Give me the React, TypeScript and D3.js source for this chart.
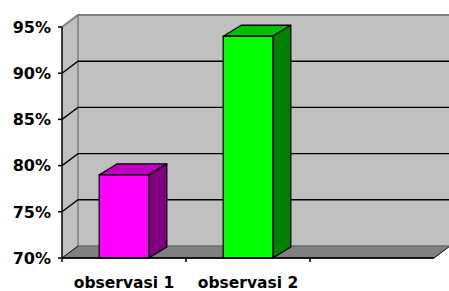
import React, { useEffect } from 'react'
import * as d3 from 'd3'

const categories = ['observasi 1', 'observasi 2']
const values = [0.79, 0.94]
const yTicks = [0.7, 0.75, 0.8, 0.85, 0.9, 0.95]
const fronts = ['#ff00ff', '#00ff00']
const tops = ['#c000c0', '#00c000']
const sides = ['#800080', '#008000']

const W = 449
const H = 291

export default function App() {
  useEffect(() => {
    document.body.style.margin = '0'
  }, [])

  // front plane
  const left = 62
  const right = 434
  const y = d3.scaleLinear().domain([0.7, 0.95]).range([258, 27])
  // empty third slot like the original
  const slots = [...categories, '']
  const x = d3.scaleBand().domain(slots).range([left, right])

  // depth of the walls and bars
  const dx = 16, dy = -12
  const bdx = 18, bdy = -11

  const y0 = y(0.7)
  const yTop = y(0.95)
  const font = 'DejaVu Sans, Verdana, sans-serif'

  const pts = (arr: number[][]) => arr.map(p => p.join(',')).join(' ')

  return (
    <svg width={W} height={H} style={{ display: 'block', background: '#fff' }}>
      {/* back wall */}
      <rect x={left + dx} y={yTop + dy} width={right - left + 10} height={y0 - yTop} fill="#c0c0c0" />
      {/* side wall */}
      <polygon points={pts([[left, yTop], [left + dx, yTop + dy], [left + dx, y0 + dy], [left, y0]])} fill="#c0c0c0" />
      {/* wall edges */}
      <polyline points={pts([[left, yTop], [left + dx, yTop + dy], [W + 5, yTop + dy]])} fill="none" stroke="#808080" strokeWidth={2} />
      <line x1={left + dx} x2={left + dx} y1={yTop + dy} y2={y0 + dy} stroke="#808080" strokeWidth={1.5} />

      {/* gridlines */}
      {yTicks.slice(1, -1).map(t => (
        <g key={t}>
          <polyline points={pts([[left, y(t)], [left + dx, y(t) + dy], [W + 5, y(t) + dy]])} fill="none" stroke="#000" strokeWidth={1.4} />
        </g>
      ))}

      {/* floor */}
      <polygon points={pts([[left, y0], [left + dx, y0 + dy], [right + dx, y0 + dy], [right, y0]])} fill="#808080" stroke="#000" strokeWidth={1} />
      <line x1={left + dx} x2={right + dx} y1={y0 + dy} y2={y0 + dy} stroke="#a0a0a0" strokeWidth={1} />

      {/* bars */}
      {categories.map((c, i) => {
        const bw = x.bandwidth() * 0.4
        const bx = (x(c) as number) + (x.bandwidth() - bw) / 2
        const by = y(values[i])
        return (
          <g key={c} stroke="#000" strokeWidth={1.3} strokeLinejoin="round">
            <polygon points={pts([[bx, by], [bx + bdx, by + bdy], [bx + bw + bdx, by + bdy], [bx + bw, by]])} fill={tops[i]} />
            <polygon points={pts([[bx + bw, by], [bx + bw + bdx, by + bdy], [bx + bw + bdx, y0 + bdy], [bx + bw, y0]])} fill={sides[i]} />
            <rect x={bx} y={by} width={bw} height={y0 - by} fill={fronts[i]} />
          </g>
        )
      })}

      {/* value axis */}
      <line x1={left} x2={left} y1={yTop} y2={y0} stroke="#000" strokeWidth={1.5} />
      {yTicks.map(t => (
        <g key={t}>
          <line x1={left - 4} x2={left} y1={y(t)} y2={y(t)} stroke="#000" strokeWidth={1.5} />
          <text x={51} y={y(t)} dy="0.36em" textAnchor="end" fontFamily={font} fontWeight="bold" fontSize={16} fill="#000">
            {d3.format('.0%')(t)}
          </text>
        </g>
      ))}

      {/* category axis */}
      <line x1={left} x2={right} y1={y0} y2={y0} stroke="#000" strokeWidth={1.5} />
      {slots.map(s => (
        <line key={'t' + s} x1={x(s) as number} x2={x(s) as number} y1={y0} y2={y0 + 4} stroke="#000" strokeWidth={1.5} />
      ))}
      {categories.map(c => (
        <text key={'l' + c} x={(x(c) as number) + x.bandwidth() / 2} y={288} textAnchor="middle" fontFamily={font} fontWeight="bold" fontSize={15.5} fill="#000">
          {c}
        </text>
      ))}
    </svg>
  )
}
